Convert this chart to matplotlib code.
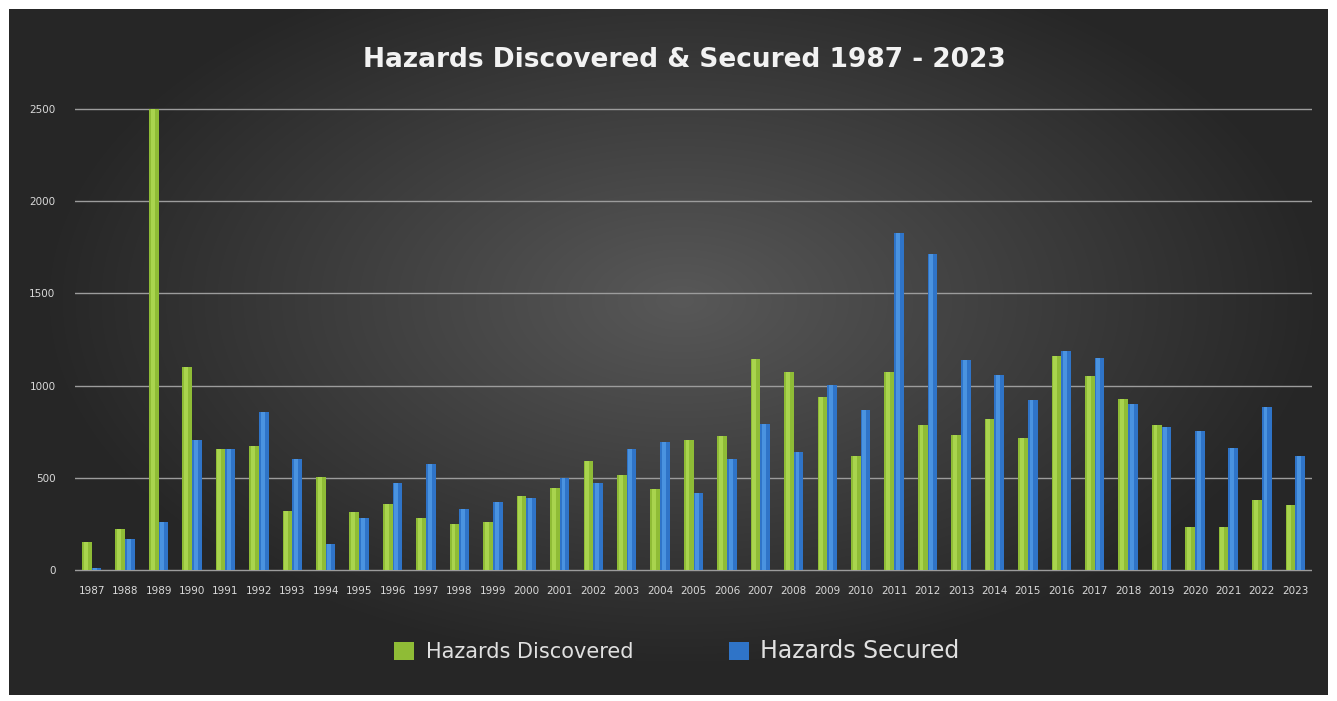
import numpy as np
import matplotlib
matplotlib.use("Agg")
import matplotlib.pyplot as plt

years = [str(y) for y in range(1987, 2024)]
discovered = [150, 225, 2500, 1100, 655, 670, 320, 505, 315, 360, 280, 248,
              262, 400, 446, 590, 515, 437, 705, 727, 1142, 1076, 936, 620,
              1076, 786, 732, 817, 714, 1160, 1052, 927, 786, 231, 231, 380, 352]
secured = [12, 168, 262, 705, 656, 859, 600, 139, 280, 470, 573, 331,
           367, 392, 497, 470, 656, 696, 419, 600, 790, 642, 1003, 868,
           1826, 1712, 1139, 1057, 922, 1188, 1148, 900, 777, 754, 660, 882, 618]
yticks = [0, 500, 1000, 1500, 2000, 2500]

title = "Hazards Discovered & Secured 1987 - 2023"
green, green_hi = "#8fbc36", "#a9d44e"
blue, blue_hi = "#2f74c8", "#4a93e0"
text_col = "#d9d9d9"

W, H = 1337, 701
fig = plt.figure(figsize=(W / 100, H / 100), dpi=100, facecolor="white")

# dark radial-gradient backdrop
bg = fig.add_axes([9 / W, 6 / H, 1319 / W, 686 / H], zorder=0)
gx, gy = np.meshgrid(np.linspace(-1, 1, 400), np.linspace(-1, 1, 220))
r = np.sqrt(((gx - 0.02) / 1.0) ** 2 + ((gy + 0.15) / 1.1) ** 2)
shade = np.clip(0.345 - 0.2 * r, 0.15, 0.35)
bg.imshow(np.dstack([shade] * 3), aspect="auto", extent=[0, 1, 0, 1], interpolation="bilinear")
bg.axis("off")

ax = fig.add_axes([75 / W, 1 - 573.7 / H, 1237 / W, (573.7 - 107.2) / H], zorder=1)
ax.patch.set_alpha(0)

x = np.arange(len(years))
w = 0.29
ax.bar(x - w / 2, discovered, width=w, color=green, zorder=3, label="Hazards Discovered")
ax.bar(x - w / 2 - w * 0.12, discovered, width=w * 0.4, color=green_hi, zorder=4)
ax.bar(x + w / 2, secured, width=w, color=blue, zorder=3, label="Hazards Secured")
ax.bar(x + w / 2 - w * 0.12, secured, width=w * 0.4, color=blue_hi, zorder=4)

ax.set_xlim(-0.5, len(years) - 0.5)
ax.set_ylim(-20, 2510)
ax.set_yticks(yticks)
ax.set_yticklabels([str(t) for t in yticks])
ax.set_xticks(x)
ax.set_xticklabels(years)
ax.tick_params(axis="y", length=0, pad=14, labelsize=7.5, colors=text_col)
ax.tick_params(axis="x", length=0, pad=9, labelsize=7.5, colors=text_col)
for t in yticks:
    ax.axhline(t, color="#9c9c9c", lw=1, zorder=1)
for s in ax.spines.values():
    s.set_visible(False)

fig.text(684 / W, 1 - 60 / H, title, ha="center", va="center", color="#f2f2f2",
         fontsize=19, fontweight="bold", family="DejaVu Sans")

leg = fig.legend(handles=ax.containers[0:1] + ax.containers[2:3],
                 loc="center", bbox_to_anchor=(677 / W, 1 - 651 / H), ncol=2,
                 frameon=False, handlelength=0.95, handleheight=1.0,
                 columnspacing=4.6, handletextpad=0.55, fontsize=15, labelcolor="#e0e0e0")
leg.get_texts()[1].set_fontsize(17)

fig.savefig("out.png", dpi=100, facecolor="white")
